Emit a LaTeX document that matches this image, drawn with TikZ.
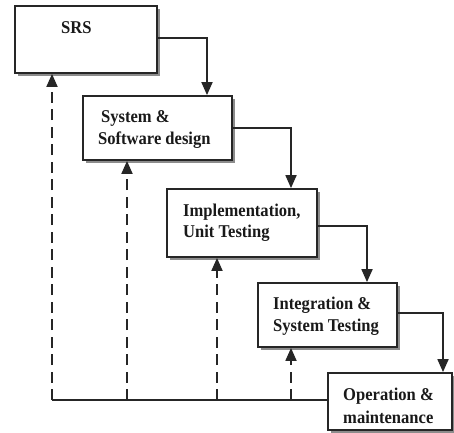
\documentclass[tikz,border=0pt]{standalone}
\usepackage{fontspec}
\setmainfont{Liberation Serif}[FakeStretch=0.92]
\usetikzlibrary{arrows.meta,shadows}
\begin{document}
\begin{tikzpicture}[x=1pt,y=-1pt,
  stagebox/.style={draw=black!85, line width=1.8pt, fill=white, inner sep=0pt,
    drop shadow={shadow xshift=2.5pt, shadow yshift=-2.5pt, fill=black!45, opacity=1}},
  stagetext/.style={anchor=base west, inner sep=0pt,
    font=\bfseries\fontsize{18}{20}\selectfont, text=black!90},
  flow/.style={draw=black!85, line width=1.8pt, -{Triangle[length=13pt,width=11pt]}},
  fbk/.style={flow, dash pattern=on 11pt off 6.5pt},
  baseline/.style={draw=black!85, line width=1.8pt}]
\useasboundingbox (0,0) rectangle (454,432);

% phase boxes
\node[stagebox, minimum width=142pt, minimum height=67pt] (srs)   at (86,39.5) {};
\node[stagebox, minimum width=149pt, minimum height=64pt] (sys)   at (157.5,128) {};
\node[stagebox, minimum width=150pt, minimum height=68pt] (impl)  at (242,223) {};
\node[stagebox, minimum width=139pt, minimum height=64pt] (integ) at (327.5,315) {};
\node[stagebox, minimum width=124pt, minimum height=57pt] (ops)   at (390,401.5) {};

% phase titles
\node[stagetext] (srs-t)    at (61,33)     {SRS};
\node[stagetext] (sys-t1)   at (101,122.7) {System \&};
\node[stagetext] (sys-t2)   at (98,144)    {Software design};
\node[stagetext] (impl-t1)  at (183,216.7) {Implementation,};
\node[stagetext] (impl-t2)  at (183,237.3) {Unit Testing};
\node[stagetext] (integ-t1) at (273,309.3) {Integration \&};
\node[stagetext] (integ-t2) at (273,331.7) {System Testing};
\node[stagetext] (ops-t1)   at (343,400)   {Operation \&};
\node[stagetext] (ops-t2)   at (343,423.3) {maintenance};

% forward flow between phases
\draw[flow] ([yshift=1.5pt]srs.east) -| ([xshift=49.5pt]sys.north);
\draw[flow] (sys.east) -| ([xshift=49pt]impl.north);
\draw[flow] ([yshift=-3pt]impl.east) -| ([xshift=39.5pt]integ.north);
\draw[flow] ([yshift=2pt]integ.east) -| ([xshift=53pt]ops.north);

% feedback path
\coordinate (base) at (52,400);
\draw[baseline] (ops.west |- base) -- (base);
\path ([xshift=-34pt]srs.south)    coordinate (fb1);
\path ([xshift=-30.5pt]sys.south)  coordinate (fb2);
\path ([xshift=-25pt]impl.south)   coordinate (fb3);
\path ([xshift=-36.5pt]integ.south) coordinate (fb4);
\draw[fbk] (fb1 |- base) -- (fb1);
\draw[fbk] (fb2 |- base) -- (fb2);
\draw[fbk] (fb3 |- base) -- (fb3);
\draw[fbk] (fb4 |- base) -- (fb4);
\end{tikzpicture}
\end{document}
